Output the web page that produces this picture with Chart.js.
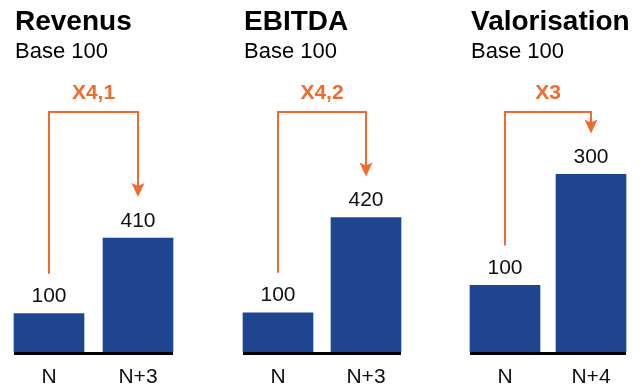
<!DOCTYPE html>
<html><head><meta charset="utf-8">
<script src="https://cdn.jsdelivr.net/npm/chart.js@4.4.0/dist/chart.umd.min.js"></script>
<style>
html,body{margin:0;padding:0;background:#fff;overflow:hidden;}
#wrap{position:relative;width:642px;height:385px;}
canvas{position:absolute;left:0;top:0;}
</style></head><body>
<div id="wrap">
<canvas id="c0" width="642" height="385"></canvas>
<canvas id="c1" width="642" height="385"></canvas>
<canvas id="c2" width="642" height="385"></canvas>
</div>
<script>
const titles = ['Revenus', 'EBITDA', 'Valorisation'];
const subtitles = ['Base 100', 'Base 100', 'Base 100'];
const revenusCategories = ['N', 'N+3'];
const revenusValues = [100, 410];
const ebitdaCategories = ['N', 'N+3'];
const ebitdaValues = [100, 420];
const valorisationCategories = ['N', 'N+4'];
const valorisationValues = [100, 300];
const multipliers = ['X4,1', 'X4,2', 'X3'];
const scaleMin = [-57, -32, -20];
const scaleMax = [894, 748, 398];

const panels = [
  { cats: revenusCategories, vals: revenusValues },
  { cats: ebitdaCategories, vals: ebitdaValues },
  { cats: valorisationCategories, vals: valorisationValues }
];
const plotLeft = [4.5, 234, 462];
const plotRight = [182.5, 410, 634];

const FONT = '"Liberation Sans", Arial, Helvetica, sans-serif';
const ORANGE = '#EF6C2E';
const BLUE = '#1F4590';

const annot = {
  id: 'annot',
  afterDatasetsDraw(chart, args, opts) {
    const i = opts.index;
    const ctx = chart.ctx;
    const meta = chart.getDatasetMeta(0);
    const b0 = meta.data[0], b1 = meta.data[1];
    const bottom = chart.chartArea.bottom;
    const left = b0.x - b0.width / 2;
    const right = b1.x + b1.width / 2;
    ctx.save();
    // baseline
    ctx.fillStyle = '#000';
    ctx.fillRect(left, bottom, right - left, 3);
    // value labels
    ctx.font = '21px ' + FONT;
    ctx.fillStyle = '#111';
    ctx.textAlign = 'center';
    ctx.textBaseline = 'alphabetic';
    meta.data.forEach((bar, k) => {
      ctx.fillText(String(panels[i].vals[k]), bar.x, bar.y - 11.5);
    });
    // connector
    const topY = 112;
    const tip = b1.y - 41;
    ctx.strokeStyle = ORANGE;
    ctx.lineWidth = 2;
    ctx.beginPath();
    ctx.moveTo(b0.x, b0.y - 40);
    ctx.lineTo(b0.x, topY);
    ctx.lineTo(b1.x, topY);
    ctx.lineTo(b1.x, tip - 10);
    ctx.stroke();
    ctx.fillStyle = ORANGE;
    ctx.beginPath();
    ctx.moveTo(b1.x, tip);
    ctx.lineTo(b1.x - 6.5, tip - 14);
    ctx.lineTo(b1.x, tip - 11);
    ctx.lineTo(b1.x + 6.5, tip - 14);
    ctx.closePath();
    ctx.fill();
    // multiplier
    ctx.font = 'bold 21px ' + FONT;
    ctx.fillText(multipliers[i], (b0.x + b1.x) / 2, 98.5);
    // titles
    ctx.textAlign = 'left';
    ctx.fillStyle = '#000';
    ctx.font = 'bold 28px ' + FONT;
    ctx.fillText(titles[i], left + 1, 30);
    ctx.font = '22px ' + FONT;
    ctx.fillText(subtitles[i], left + 1, 57.5);
    ctx.restore();
  }
};

panels.forEach((p, i) => {
  new Chart(document.getElementById('c' + i), {
    type: 'bar',
    data: {
      labels: p.cats,
      datasets: [{
        data: p.vals,
        base: scaleMin[i],
        backgroundColor: BLUE,
        borderWidth: 0,
        barThickness: 70
      }]
    },
    options: {
      responsive: false,
      devicePixelRatio: 1,
      animation: false,
      layout: { padding: { left: plotLeft[i], right: 642 - plotRight[i], top: 120, bottom: -18 } },
      plugins: { legend: { display: false }, tooltip: { enabled: false }, annot: { index: i } },
      scales: {
        x: {
          grid: { display: false, drawTicks: false },
          border: { display: false },
          ticks: { color: '#111', padding: 15, font: { family: FONT, size: 21, lineHeight: 1 } }
        },
        y: { display: false, min: scaleMin[i], max: scaleMax[i] }
      }
    },
    plugins: [annot]
  });
});
</script>
</body></html>
